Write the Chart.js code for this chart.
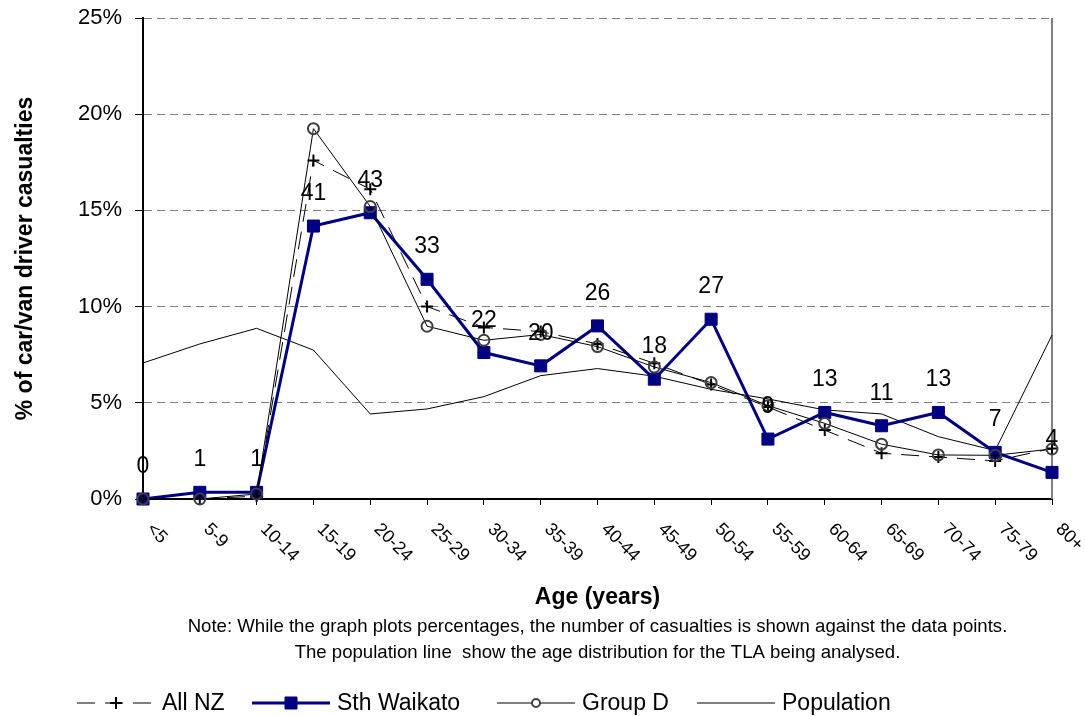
<!DOCTYPE html>
<html>
<head>
<meta charset="utf-8">
<script src="https://cdn.jsdelivr.net/npm/chart.js@4.4.1/dist/chart.umd.min.js"></script>
<style>
  html, body { margin: 0; padding: 0; background: #fff; }
  #wrap { width: 1085px; height: 716px; }
</style>
</head>
<body>
<div id="wrap"><canvas id="chart" width="1085" height="716"></canvas></div>
<script>
// ---------- data ----------
const ageGroups = ['<5', '5-9', '10-14', '15-19', '20-24', '25-29', '30-34', '35-39', '40-44',
                   '45-49', '50-54', '55-59', '60-64', '65-69', '70-74', '75-79', '80+'];
// casualty counts for the TLA (labels above its points)
const sthWaikatoCounts = [0, 1, 1, 41, 43, 33, 22, 20, 26, 18, 27, 9, 13, 11, 13, 7, 4];
const allNzPct = [0, 0, 0.15, 17.6, 16.1, 10.0, 8.92, 8.7, 8.06, 7.05, 5.95, 4.78, 3.58, 2.38, 2.18, 1.98, 2.63];
const groupDPct = [0, 0, 0.26, 19.25, 15.2, 8.98, 8.25, 8.55, 7.92, 6.86, 6.05, 4.85, 3.93, 2.85, 2.29, 2.27, 2.6];
const populationPct = [7.07, 8.06, 8.87, 7.74, 4.42, 4.68, 5.32, 6.41, 6.78, 6.38, 5.7, 5.2, 4.63, 4.42, 3.24, 2.52, 8.52];
const yTicks = [0, 5, 10, 15, 20, 25];

const totalCasualties = sthWaikatoCounts.reduce((s, c) => s + c, 0);
const sthWaikatoPct = sthWaikatoCounts.map(c => c / totalCasualties * 100);

const FONT = '"Liberation Sans", Arial, sans-serif';

// ---------- extra drawing: plot border, point labels, rotated ticks, titles, legend ----------
const overlay = {
    id: 'overlay',
    beforeDatasetsDraw(chart) {
        const { ctx, chartArea: a } = chart;
        ctx.save();
        ctx.strokeStyle = '#808080';
        ctx.lineWidth = 2;
        ctx.beginPath();
        ctx.moveTo(a.right, a.top);
        ctx.lineTo(a.right, a.bottom);
        ctx.stroke();
        ctx.restore();
    },
    afterDraw(chart) {
        const { ctx, chartArea: a } = chart;
        const xScale = chart.scales.x;
        const midX = (a.left + a.right) / 2;
        ctx.save();
        ctx.fillStyle = '#000';

        // counts above the Sth Waikato points
        const meta = chart.getDatasetMeta(1);
        ctx.font = '23px ' + FONT;
        ctx.textAlign = 'center';
        ctx.textBaseline = 'alphabetic';
        meta.data.forEach((pt, i) => ctx.fillText(String(sthWaikatoCounts[i]), pt.x, pt.y - 26));

        // age group labels, slanted down to the right
        ctx.font = '18px ' + FONT;
        ctx.textAlign = 'left';
        ctx.textBaseline = 'top';
        ageGroups.forEach((lab, i) => {
            const x = xScale.getPixelForTick(i);
            ctx.save();
            ctx.translate(x + 13, a.bottom + 21);
            ctx.rotate(Math.PI / 4);
            ctx.fillText(lab, 0, 0);
            ctx.restore();
        });

        // axis titles
        ctx.font = 'bold 23px ' + FONT;
        ctx.textAlign = 'center';
        ctx.textBaseline = 'alphabetic';
        ctx.fillText('Age (years)', midX, 604);
        ctx.save();
        ctx.translate(26, (a.top + a.bottom) / 2);
        ctx.rotate(-Math.PI / 2);
        ctx.textBaseline = 'middle';
        ctx.fillText('% of car/van driver casualties', 0, 0);
        ctx.restore();

        // notes
        ctx.font = '18.6px ' + FONT;
        ctx.fillText('Note: While the graph plots percentages, the number of casualties is shown against the data points.', midX, 632);
        ctx.fillText('The population line  show the age distribution for the TLA being analysed.', midX, 658);

        // legend
        const ly = 703;
        const items = [
            { x: 77, label: 'All NZ', color: '#000', width: 1, dash: [18, 10], point: { pointStyle: 'cross', radius: 6, borderWidth: 2 }, pc: '#000', fill: '#000' },
            { x: 252, label: 'Sth Waikato', color: '#000080', width: 3, dash: [], point: { pointStyle: 'rect', radius: 8.5, borderWidth: 1 }, pc: '#000080', fill: '#000080' },
            { x: 497, label: 'Group D', color: '#000', width: 1, dash: [], point: { pointStyle: 'circle', radius: 4, borderWidth: 2 }, pc: '#404040', fill: '#fff' },
            { x: 697, label: 'Population', color: '#000', width: 1, dash: [], point: null }
        ];
        ctx.font = '23px ' + FONT;
        ctx.textAlign = 'left';
        ctx.textBaseline = 'middle';
        items.forEach(it => {
            ctx.save();
            ctx.strokeStyle = it.color;
            ctx.lineWidth = it.width;
            ctx.setLineDash(it.dash);
            ctx.beginPath();
            ctx.moveTo(it.x, ly);
            ctx.lineTo(it.x + 78, ly);
            ctx.stroke();
            ctx.setLineDash([]);
            if (it.point) {
                ctx.strokeStyle = it.pc;
                ctx.fillStyle = it.fill;
                ctx.lineWidth = it.point.borderWidth;
                Chart.helpers.drawPoint(ctx, { ...it.point, rotation: 0 }, it.x + 39, ly);
            }
            ctx.restore();
            ctx.fillText(it.label, it.x + 85, ly + 1);
        });
        ctx.restore();
    }
};

// ---------- chart ----------
const chart = new Chart(document.getElementById('chart'), {
    type: 'line',
    data: {
        labels: ageGroups,
        datasets: [
            {
                label: 'All NZ', data: allNzPct, order: 1, clip: false,
                borderColor: '#000', borderWidth: 1, borderDash: [18, 10],
                pointStyle: 'cross', pointRadius: 6, pointBorderWidth: 2,
                pointBorderColor: '#000', pointBackgroundColor: '#000'
            },
            {
                label: 'Sth Waikato', data: sthWaikatoPct, order: 2, clip: false,
                borderColor: '#000080', borderWidth: 3,
                pointStyle: 'rect', pointRadius: 8.5, pointBorderWidth: 1,
                pointBorderColor: '#000080', pointBackgroundColor: '#000080'
            },
            {
                label: 'Group D', data: groupDPct, order: 0, clip: false,
                borderColor: '#000', borderWidth: 1,
                pointStyle: 'circle', pointRadius: 5.5, pointBorderWidth: 2,
                pointBorderColor: '#404040', pointBackgroundColor: 'rgba(0,0,0,0)'
            },
            {
                label: 'Population', data: populationPct, order: 3, clip: false,
                borderColor: '#000', borderWidth: 1, pointRadius: 0
            }
        ]
    },
    options: {
        responsive: false,
        animation: false,
        events: [],
        layout: { autoPadding: false, padding: { top: 18, right: 33, left: 0, bottom: 0 } },
        plugins: { legend: { display: false }, tooltip: { enabled: false } },
        scales: {
            x: {
                offset: false,
                grid: { drawOnChartArea: false, tickLength: 6, tickColor: '#000', tickWidth: 1 },
                border: { color: '#000', width: 2 },
                ticks: { display: false },
                afterFit: s => { s.height = 217; }
            },
            y: {
                min: 0, max: 25,
                afterBuildTicks: s => { s.ticks = yTicks.map(v => ({ value: v })); },
                ticks: { callback: v => v + '%', color: '#000', font: { family: FONT, size: 22 }, padding: 13 },
                grid: { color: '#808080', lineWidth: 1, tickLength: 8, tickColor: '#000', tickWidth: 1 },
                border: { color: '#000', width: 2, dash: [8, 5] },
                // fixed axis width; the tick labels must not push the plot top down
                afterFit: s => { s.width = 143; s.paddingTop = 0; s.paddingBottom = 0; }
            }
        }
    },
    plugins: [overlay]
});
</script>
</body>
</html>
